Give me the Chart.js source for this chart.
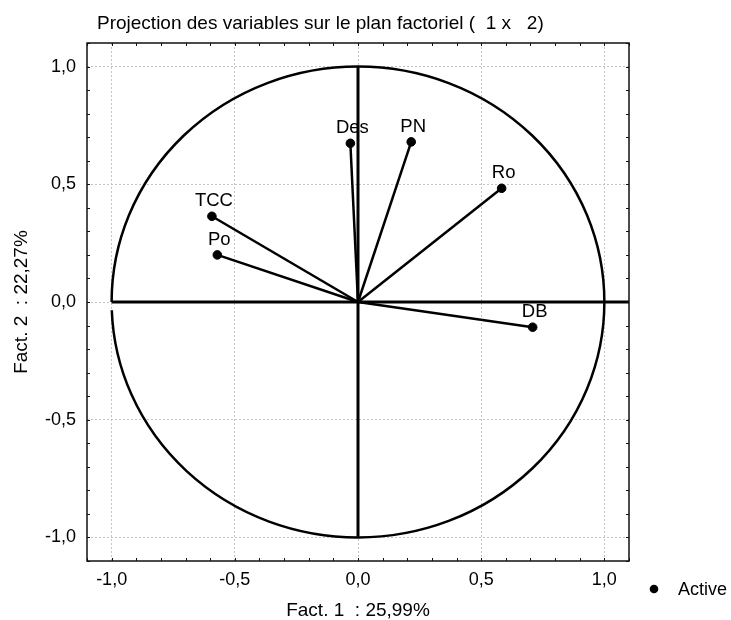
<!DOCTYPE html>
<html>
<head>
<meta charset="utf-8">
<script src="https://cdn.jsdelivr.net/npm/chart.js@4.4.1/dist/chart.umd.min.js"></script>
<style>
  html, body { margin: 0; padding: 0; background: #fff; }
  canvas { display: block; }
</style>
</head>
<body>
<canvas id="chart" width="731" height="620"></canvas>
<script>
// ---- data ----
const variables = ["Des", "PN", "Ro", "TCC", "Po", "DB"];
const fact1 = [-0.031, 0.216, 0.583, -0.593, -0.571, 0.709];
const fact2 = [0.674, 0.680, 0.483, 0.364, 0.200, -0.107];
const axisTicks = [-1.0, -0.5, 0.0, 0.5, 1.0];

const titleText = "Projection des variables sur le plan factoriel (  1 x   2)";
const xTitle = "Fact. 1  : 25,99%";
const yTitle = "Fact. 2  : 22,27%";
const legendText = "Active";

const FONT = "'Liberation Sans', Arial, sans-serif";
Chart.defaults.font.family = FONT;
Chart.defaults.font.size = 18;
Chart.defaults.color = "#000";

const fmt = v => Number(v).toFixed(1).replace(".", ",");
const setTicks = s => { s.ticks = axisTicks.map(v => ({ value: v })); };

// unit circle + the two factor axes, under the vectors
const circlePlugin = {
  id: "circle",
  beforeDatasetsDraw(chart) {
    const { ctx, chartArea, scales: { x, y } } = chart;
    const cx = x.getPixelForValue(0), cy = y.getPixelForValue(0);
    const rx = x.getPixelForValue(1) - cx, ry = cy - y.getPixelForValue(1);
    ctx.save();
    ctx.strokeStyle = "#000";
    ctx.lineWidth = 2.5;
    ctx.beginPath();
    ctx.ellipse(cx, cy, rx, ry, 0, Math.PI, 3 * Math.PI - 0.035);
    ctx.stroke();
    ctx.lineWidth = 3;
    ctx.beginPath();
    ctx.moveTo(x.getPixelForValue(-1), cy);
    ctx.lineTo(chartArea.right, cy);
    ctx.moveTo(cx, y.getPixelForValue(1));
    ctx.lineTo(cx, y.getPixelForValue(-1));
    ctx.stroke();
    ctx.restore();
  }
};

// frame with small inner ticks every 0.1
const framePlugin = {
  id: "frame",
  afterDatasetsDraw(chart) {
    const { ctx, chartArea: a, scales: { x, y } } = chart;
    ctx.save();
    ctx.strokeStyle = "#111";
    ctx.lineWidth = 1.5;
    ctx.strokeRect(a.left, a.top, a.right - a.left, a.bottom - a.top);
    ctx.lineWidth = 1;
    ctx.beginPath();
    for (let i = -11; i <= 11; i++) {
      const px = Math.round(x.getPixelForValue(i / 10)) + 0.5;
      const py = Math.round(y.getPixelForValue(i / 10)) + 0.5;
      ctx.moveTo(px, a.bottom); ctx.lineTo(px, a.bottom - 3);
      ctx.moveTo(px, a.top); ctx.lineTo(px, a.top + 3);
      ctx.moveTo(a.left, py); ctx.lineTo(a.left + 3, py);
      ctx.moveTo(a.right, py); ctx.lineTo(a.right - 3, py);
    }
    ctx.stroke();
    ctx.restore();
  }
};

// variable names above the points, plus the small legend
const labelPlugin = {
  id: "labels",
  afterLayout(chart) {
    chart.titleBlock.left = chart.chartArea.left + 10;
  },
  afterDatasetsDraw(chart) {
    const { ctx, chartArea: a } = chart;
    const meta = chart.getDatasetMeta(0);
    ctx.save();
    ctx.fillStyle = "#000";
    ctx.font = "18.5px " + FONT;
    ctx.textAlign = "center";
    ctx.textBaseline = "middle";
    meta.data.forEach((pt, i) => {
      ctx.fillText(variables[i], pt.x + 2, pt.y - 15);
    });
    // legend
    ctx.font = "18px " + FONT;
    ctx.beginPath();
    ctx.arc(a.right + 25, a.bottom + 28, 4.3, 0, Math.PI * 2);
    ctx.fill();
    ctx.textAlign = "left";
    ctx.fillText(legendText, a.right + 49, a.bottom + 29);
    ctx.restore();
  }
};

const activeSet = {
  type: "scatter",
  label: legendText,
  data: variables.map((n, i) => ({ x: fact1[i], y: fact2[i] })),
  backgroundColor: "#000",
  borderColor: "#000",
  pointRadius: 4.3,
  order: 0
};

const vectorSets = variables.map((n, i) => ({
  type: "line",
  label: n,
  data: [{ x: 0, y: 0 }, { x: fact1[i], y: fact2[i] }],
  borderColor: "#000",
  borderWidth: 2.5,
  pointRadius: 0,
  fill: false,
  order: 1
}));

new Chart(document.getElementById("chart"), {
  type: "scatter",
  data: { datasets: [activeSet, ...vectorSets] },
  options: {
    responsive: false,
    animation: false,
    events: [],
    layout: { padding: { right: 102 } },
    plugins: {
      legend: { display: false },
      tooltip: { enabled: false },
      title: {
        display: true,
        text: titleText,
        align: "start",
        color: "#000",
        font: { size: 19, weight: "normal", lineHeight: 1.2 },
        padding: { top: 12, bottom: 8.2 }
      }
    },
    scales: {
      x: {
        type: "linear", min: -1.1, max: 1.1,
        afterBuildTicks: setTicks,
        afterFit: s => { s.height = 59; },
        grid: { color: "#c4c4c4", lineWidth: 1, drawTicks: false },
        border: { display: false, dash: [2, 2] },
        ticks: { padding: 8, callback: fmt, maxRotation: 0, autoSkip: false },
        title: { display: true, text: xTitle, font: { size: 19, lineHeight: 1 }, padding: { top: 0, bottom: 0 } }
      },
      y: {
        type: "linear", min: -1.1, max: 1.1,
        afterBuildTicks: setTicks,
        afterFit: s => { s.width = 87; },
        grid: { color: "#c4c4c4", lineWidth: 1, drawTicks: false },
        border: { display: false, dash: [2, 2] },
        ticks: { padding: 11, callback: fmt, autoSkip: false },
        title: { display: true, text: yTitle, font: { size: 19, lineHeight: 1.2 }, padding: { top: 10.3, bottom: 0 } }
      }
    }
  },
  plugins: [circlePlugin, framePlugin, labelPlugin]
});
</script>
</body>
</html>
